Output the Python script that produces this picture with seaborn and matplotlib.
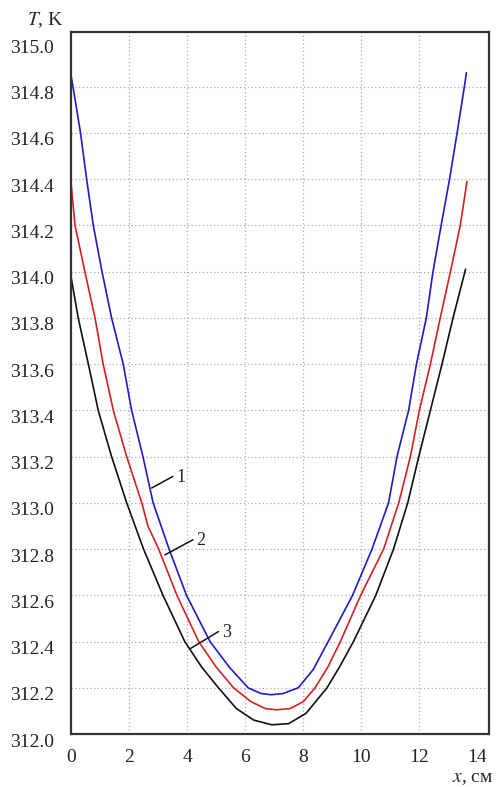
import matplotlib
matplotlib.use("Agg")
import matplotlib.pyplot as plt
import matplotlib.transforms as mtransforms
import pandas as pd
import seaborn as sns

# curve 1 (blue)
X1 = [0.0, 0.07, 0.33, 0.54, 0.77, 1.07, 1.40, 1.80, 2.09, 2.48, 2.83, 3.38, 3.98,
      4.79, 5.45, 6.10, 6.55, 6.90, 7.30, 7.83, 8.35, 8.86, 9.70, 10.37, 10.94,
      11.23, 11.63, 11.90, 12.24, 12.47, 12.75, 13.04, 13.30, 13.55, 13.62]
T1 = [314.85, 314.80, 314.60, 314.40, 314.20, 314.00, 313.80, 313.60, 313.40, 313.20,
      313.00, 312.80, 312.60, 312.40, 312.29, 312.20, 312.175, 312.17, 312.175, 312.20,
      312.28, 312.40, 312.60, 312.80, 313.00, 313.20, 313.40, 313.60, 313.80, 314.00,
      314.20, 314.40, 314.60, 314.80, 314.86]

# curve 2 (red)
X2 = [0.0, 0.14, 0.48, 0.83, 1.11, 1.46, 1.92, 2.44, 2.65, 3.02, 3.65, 4.40, 5.00,
      5.60, 6.20, 6.70, 7.09, 7.55, 8.00, 8.41, 8.85, 9.28, 9.98, 10.77, 11.29, 11.69,
      12.00, 12.38, 12.72, 13.07, 13.41, 13.64]
T2 = [314.39, 314.20, 314.00, 313.80, 313.60, 313.40, 313.20, 313.00, 312.90, 312.80,
      312.60, 312.40, 312.29, 312.20, 312.14, 312.11, 312.105, 312.11, 312.14, 312.20,
      312.29, 312.40, 312.60, 312.80, 313.00, 313.20, 313.40, 313.60, 313.80, 314.00,
      314.20, 314.39]

# curve 3 (black)
X3 = [0.0, 0.25, 0.60, 0.94, 1.40, 1.92, 2.50, 3.17, 3.92, 4.50, 5.08, 5.70, 6.30,
      6.92, 7.50, 8.10, 8.82, 9.25, 9.73, 10.50, 11.11, 11.60, 11.98, 12.38, 12.78,
      13.16, 13.59]
T3 = [313.98, 313.80, 313.60, 313.40, 313.20, 313.00, 312.80, 312.60, 312.40, 312.29,
      312.20, 312.11, 312.06, 312.04, 312.045, 312.09, 312.20, 312.29, 312.40, 312.60,
      312.80, 313.00, 313.20, 313.40, 313.60, 313.80, 314.01]

CURVE_COLORS = ["#1c1cc8", "#d42222", "#111111"]
X_TICKS = [0, 2, 4, 6, 8, 10, 12, 14]
Y_TICKS = [312.0, 312.2, 312.4, 312.6, 312.8, 313.0, 313.2, 313.4, 313.6, 313.8,
           314.0, 314.2, 314.4, 314.6, 314.8, 315.0]

# label leader lines: (start x, start T, end x, end T, text)
LABELS = [
    (2.78, 313.064, 3.51, 313.114, "1"),
    (3.24, 312.775, 4.20, 312.840, "2"),
    (4.08, 312.367, 5.08, 312.443, "3"),
]

sns.set_style("white")
plt.rcParams["font.family"] = ["Liberation Serif", "DejaVu Serif"]
plt.rcParams["mathtext.fontset"] = "stix"

fig = plt.figure(figsize=(4.96, 7.87), dpi=100)
ax = fig.add_axes([0.143, 0.0673, 0.843, 0.8917])

curves = [(X1, T1), (X2, T2), (X3, T3)]
for (xs, ts), color in zip(curves, CURVE_COLORS):
    df = pd.DataFrame({"x": xs, "T": ts})
    sns.lineplot(data=df, x="x", y="T", ax=ax, sort=False, color=color,
                 linewidth=1.2, estimator=None)

for x0, y0, x1, y1, text in LABELS:
    ax.plot([x0, x1], [y0, y1], color="#111111", linewidth=1.1)
    ax.text(x1 + 0.28, y1 - 0.005, text, fontsize=13, ha="center", va="center")

ax.set_xlim(0, 14.4)
ax.set_ylim(312.0, 315.035)
ax.set_xticks(X_TICKS)
ax.set_yticks(Y_TICKS)
ax.set_xticklabels([str(v) for v in X_TICKS], fontsize=14)
ax.set_yticklabels([f"{v:.1f}" for v in Y_TICKS], fontsize=14)
ax.tick_params(axis="both", length=0, colors="#222222")
ax.tick_params(axis="x", pad=11)
ax.tick_params(axis="y", pad=12)

offset = mtransforms.ScaledTranslation(0, -6 / 100, fig.dpi_scale_trans)
for lbl in ax.get_yticklabels():
    lbl.set_transform(lbl.get_transform() + offset)

for v in X_TICKS[1:-1]:
    ax.axvline(v, color="#aaaaaa", linestyle=(0, (1, 2)), linewidth=0.9, zorder=0)
for v in Y_TICKS[1:-1]:
    ax.axhline(v, color="#aaaaaa", linestyle=(0, (1, 2)), linewidth=0.9, zorder=0)

for spine in ax.spines.values():
    spine.set_color("#333333")
    spine.set_linewidth(1.6)

ax.set_xlabel("")
ax.set_ylabel("")
fig.text(0.055, 0.975, "$T$, K", fontsize=14, ha="left", va="center")
fig.text(0.994, 0.011, "$x$, см", fontsize=14, ha="right", va="center")

fig.savefig("out.png", dpi=100)
